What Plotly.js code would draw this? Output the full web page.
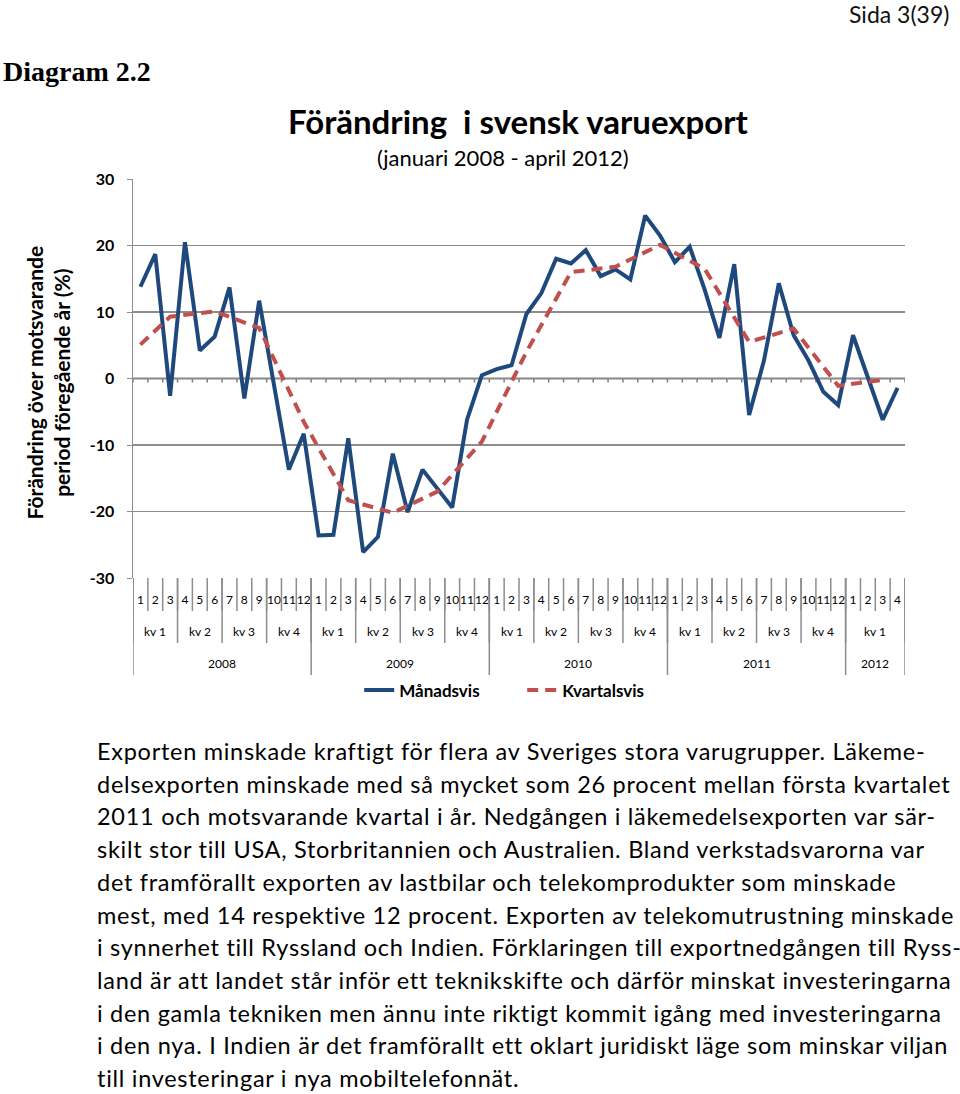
<!DOCTYPE html>
<html>
<head>
<meta charset="utf-8">
<script src="https://cdn.plot.ly/plotly-3.0.1.min.js"></script>
<style>
  html, body { margin: 0; padding: 0; background: #fff; }
  body { width: 960px; height: 1094px; position: relative; overflow: hidden; font-family: Lato, "Open Sans", sans-serif; }
  #sida { position: absolute; left: 849px; top: 0px; font-size: 23px; color: #111; }
  #diag { position: absolute; left: 3px; top: 56px; font-family: "Liberation Serif", serif; font-weight: bold; font-size: 28px; color: #000; }
  #chart { position: absolute; left: 0; top: 0; width: 960px; height: 720px; }
  #text { position: absolute; left: 97px; top: 735px; font-size: 23.5px; letter-spacing: 0.72px; line-height: 32.7px; color: #000; white-space: nowrap; }
</style>
</head>
<body>
<div id="chart"></div>
<div id="sida">Sida 3(39)</div>
<div id="diag">Diagram 2.2</div>
<div id="text"></div>
<script>
// ---- data ----
var monthLabels = ['1','2','3','4','5','6','7','8','9','10','11','12',
                   '1','2','3','4','5','6','7','8','9','10','11','12',
                   '1','2','3','4','5','6','7','8','9','10','11','12',
                   '1','2','3','4','5','6','7','8','9','10','11','12',
                   '1','2','3','4'];
var quarterNames = ['kv 1','kv 2','kv 3','kv 4','kv 1','kv 2','kv 3','kv 4',
                    'kv 1','kv 2','kv 3','kv 4','kv 1','kv 2','kv 3','kv 4','kv 1'];
var quarterMonths = [3,3,3,3,3,3,3,3,3,3,3,3,3,3,3,3,4];
var yearNames = ['2008','2009','2010','2011','2012'];
var yearMonths = [12,12,12,12,4];

var manadsvis = [13.8, 18.7, -2.6, 20.5, 4.2, 6.3, 13.7, -3.0, 11.7, -1.0, -13.7, -8.3,
                 -23.6, -23.5, -9.0, -26.1, -23.8, -11.3, -20.1, -13.7, -16.6, -19.4, -6.2, 0.5,
                 1.4, 2.0, 9.7, 12.8, 18.0, 17.3, 19.3, 15.4, 16.4, 14.9, 24.5, 21.5,
                 17.5, 19.8, 13.4, 6.1, 17.2, -5.5, 2.7, 14.3, 6.5, 2.7, -2.0, -4.0,
                 6.5, 0.2, -6.2, -1.4];
var kvartalsvis = [5.1, null, 9.3, null, null, 10.1, null, null, 7.6, null, null, -6.5,
                   null, null, -18.3, null, null, -20.2, null, null, -17.0, null, null, -9.5,
                   null, null, 4.0, null, null, 16.0, null, null, 16.8, null, null, 20.1,
                   null, null, 16.5, null, null, 5.5, null, null, 7.5, null, null, -1.1,
                   null, null, -0.2, null];

var paragraph = [
  'Exporten minskade kraftigt för flera av Sveriges stora varugrupper. Läkeme-',
  'delsexporten minskade med så mycket som 26 procent mellan första kvartalet',
  '2011 och motsvarande kvartal i år. Nedgången i läkemedelsexporten var sär-',
  'skilt stor till USA, Storbritannien och Australien. Bland verkstadsvarorna var',
  'det framförallt exporten av lastbilar och telekomprodukter som minskade',
  'mest, med 14 respektive 12 procent. Exporten av telekomutrustning minskade',
  'i synnerhet till Ryssland och Indien. Förklaringen till exportnedgången till Ryss-',
  'land är att landet står inför ett teknikskifte och därför minskat investeringarna',
  'i den gamla tekniken men ännu inte riktigt kommit igång med investeringarna',
  'i den nya. I Indien är det framförallt ett oklart juridiskt läge som minskar viljan',
  'till investeringar i nya mobiltelefonnät.'
];

// ---- derived ----
var n = monthLabels.length;
var idx = []; for (var i = 0; i < n; i++) idx.push(i);
var monthBounds = []; for (var i = 0; i <= n; i++) monthBounds.push(i - 0.5);
function groupBounds(lengths) {
  var b = [-0.5], s = -0.5;
  lengths.forEach(function (l) { s += l; b.push(s); });
  return b;
}
function groupCenters(lengths) {
  var c = [], s = 0;
  lengths.forEach(function (l) { c.push(s + (l - 1) / 2); s += l; });
  return c;
}
var qB = groupBounds(quarterMonths), yB = groupBounds(yearMonths);
var qC = groupCenters(quarterMonths), yC = groupCenters(yearMonths);

var FONT = 'Lato, "Open Sans", sans-serif';
var GRID = '#8d8d8d';
var range = [-0.5, n - 0.5];

var traces = [
  { x: idx, y: manadsvis, type: 'scatter', mode: 'lines', name: 'Månadsvis',
    line: { color: '#1f497d', width: 4 } },
  { x: idx, y: kvartalsvis, type: 'scatter', mode: 'lines', name: 'Kvartalsvis', connectgaps: true,
    line: { color: '#c0504d', width: 4, dash: '11px,7px' } }
];

var annotations = [];
quarterNames.forEach(function (q, k) {
  annotations.push({ x: qC[k], y: -0.1347, xref: 'x', yref: 'paper', text: q, showarrow: false,
    xanchor: 'center', yanchor: 'middle', font: { family: FONT, size: 12, color: '#000' } });
});
yearNames.forEach(function (yname, k) {
  annotations.push({ x: yC[k], y: -0.2145, xref: 'x', yref: 'paper', text: yname, showarrow: false,
    xanchor: 'center', yanchor: 'middle', font: { family: FONT, size: 12, color: '#000' } });
});
annotations.push({ x: 0.4988, y: 1.1446, xref: 'paper', yref: 'paper', showarrow: false,
  text: 'Förändring\u00a0\u00a0i svensk varuexport', xanchor: 'center', yanchor: 'middle',
  font: { family: FONT, size: 33, color: '#000', weight: 'bold' } });
annotations.push({ x: 0.4793, y: 1.0549, xref: 'paper', yref: 'paper', showarrow: false,
  text: '(januari 2008 - april 2012)', xanchor: 'center', yanchor: 'middle',
  font: { family: FONT, size: 22, color: '#000' } });
annotations.push({ x: -0.1101, y: 0.49, xref: 'paper', yref: 'paper', showarrow: false,
  text: 'Förändring över motsvarande<br>period föregående år (%)', textangle: -90,
  xanchor: 'center', yanchor: 'middle',
  font: { family: FONT, size: 21, color: '#000', weight: 'bold' } });

var shapes = [];
// zero line
shapes.push({ type: 'line', xref: 'paper', yref: 'y', x0: 0, x1: 1, y0: 0, y1: 0, layer: 'below',
  line: { color: '#7f7f7f', width: 2 } });
monthBounds.forEach(function (b) {
  shapes.push({ type: 'line', xref: 'x', yref: 'y', ysizemode: 'pixel', yanchor: 0, x0: b, x1: b,
    y0: 0, y1: -4, layer: 'below', line: { color: '#7f7f7f', width: 1.5 } });
  shapes.push({ type: 'line', xref: 'x', yref: 'paper', ysizemode: 'pixel', yanchor: 0, x0: b, x1: b,
    y0: 0, y1: -33, line: { color: GRID, width: 1.5 } });
});
qB.forEach(function (b) {
  shapes.push({ type: 'line', xref: 'x', yref: 'paper', ysizemode: 'pixel', yanchor: 0, x0: b, x1: b,
    y0: 0, y1: -65, line: { color: GRID, width: 1.5 } });
});
yB.forEach(function (b) {
  shapes.push({ type: 'line', xref: 'x', yref: 'paper', ysizemode: 'pixel', yanchor: 0, x0: b, x1: b,
    y0: 0, y1: -97, line: { color: GRID, width: 1.5 } });
});

var layout = {
  width: 960, height: 720,
  margin: { l: 133, r: 55, t: 179, b: 140 },
  paper_bgcolor: 'rgba(0,0,0,0)', plot_bgcolor: 'rgba(0,0,0,0)',
  font: { family: FONT, color: '#000' },
  showlegend: true,
  legend: { orientation: 'h', x: 0.293, y: -0.282, xanchor: 'left', yanchor: 'middle',
    font: { family: FONT, size: 17, color: '#000', weight: 'bold' }, entrywidth: 118, bgcolor: 'rgba(0,0,0,0)' },
  xaxis: { type: 'linear', range: range, tickmode: 'array', tickvals: idx, ticktext: monthLabels,
    tickangle: 0, ticks: 'outside', ticklen: 11, tickcolor: 'rgba(0,0,0,0)', showgrid: false, zeroline: false,
    showline: false, tickfont: { family: FONT, size: 12, color: '#000' } },
  yaxis: { range: [-30, 30], tickmode: 'array', tickvals: [-30,-20,-10,0,10,20,30],
    ticktext: ['-30','-20','-10','0','10','20','30'],
    showgrid: true, gridcolor: GRID, gridwidth: 1.3, zeroline: false,
    showline: true, linecolor: GRID, linewidth: 1.5, ticks: 'outside', ticklen: 5, tickcolor: GRID,
    ticklabelstandoff: 9,
    tickfont: { family: FONT, size: 16, color: '#000', weight: 'bold' } },
  shapes: shapes,
  annotations: annotations
};

Plotly.newPlot('chart', traces, layout, { displayModeBar: false, staticPlot: true });

document.getElementById('text').innerHTML = paragraph.map(function (l) {
  return '<div>' + l + '</div>';
}).join('');
</script>
</body>
</html>
